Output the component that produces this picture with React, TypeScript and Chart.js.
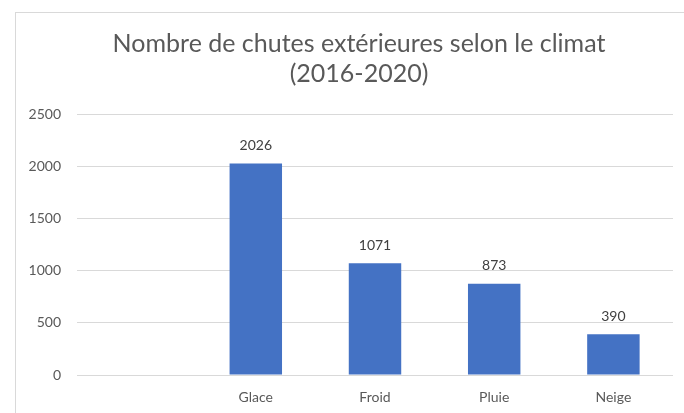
import React, { useEffect, useRef } from "react";
import { Chart, registerables } from "chart.js";

Chart.register(...registerables);

const categories = ["", "Glace", "Froid", "Pluie", "Neige"];
const values = [null, 2026, 1071, 873, 390];
const titleLines = ["Nombre de chutes extérieures selon le climat", "(2016-2020)"];
const yTicks = [0, 500, 1000, 1500, 2000, 2500];

const FONT = "Lato, 'Open Sans', sans-serif";

export default function App() {
  const ref = useRef<HTMLCanvasElement | null>(null);

  useEffect(() => {
    if (!ref.current) return;
    const borderPlugin = {
      id: "border",
      beforeDraw(chart: any) {
        const ctx = chart.ctx;
        ctx.save();
        ctx.fillStyle = "#ffffff";
        ctx.fillRect(0, 0, chart.width, chart.height);
        ctx.strokeStyle = "#d9d9d9";
        ctx.lineWidth = 1;
        ctx.strokeRect(15.5, 12.5, 900, 600);
        ctx.restore();
      },
    };
    const titlePlugin = {
      id: "customTitle",
      afterDraw(chart: any) {
        const ctx = chart.ctx;
        ctx.save();
        ctx.font = `25px ${FONT}`;
        ctx.fillStyle = "#595959";
        ctx.textAlign = "center";
        ctx.textBaseline = "middle";
        titleLines.forEach((line, i) => {
          ctx.fillText(line, 359, 44 + i * 30);
        });
        ctx.restore();
      },
    };
    const labelPlugin = {
      id: "valueLabels",
      afterDatasetsDraw(chart: any) {
        const ctx = chart.ctx;
        const meta = chart.getDatasetMeta(0);
        ctx.save();
        ctx.font = `14px ${FONT}`;
        ctx.fillStyle = "#404040";
        ctx.textAlign = "center";
        ctx.textBaseline = "middle";
        meta.data.forEach((bar: any, i: number) => {
          const v = values[i];
          if (v == null) return;
          ctx.fillText(String(v), bar.x, bar.y - 18);
        });
        ctx.restore();
      },
    };
    const chart = new Chart(ref.current, {
      type: "bar",
      data: {
        labels: categories,
        datasets: [
          {
            data: values as any,
            backgroundColor: "#4472C4",
            barPercentage: 0.44,
            categoryPercentage: 1,
          },
        ],
      },
      options: {
        animation: false,
        responsive: false,
        layout: { padding: { top: 114, right: 11, left: 0, bottom: 0 } },
        plugins: {
          legend: { display: false },
          tooltip: { enabled: false },
          title: { display: false },
        },
        scales: {
          x: {
            grid: { display: false, drawTicks: false },
            border: { display: false },
            ticks: { color: "#595959", font: { family: FONT, size: 14 }, padding: 14 },
            afterFit(scale: any) {
              scale.height = 38;
            },
          },
          y: {
            min: 0,
            max: 2500,
            afterBuildTicks(scale: any) {
              scale.ticks = yTicks.map((v) => ({ value: v }));
            },
            afterFit(scale: any) {
              scale.width = 77;
            },
            grid: { color: "#d9d9d9", drawTicks: false },
            border: { display: false },
            ticks: {
              color: "#595959",
              font: { family: FONT, size: 14 },
              padding: 16,
              callback: (v: any) => String(v),
            },
          },
        },
      },
      plugins: [borderPlugin, labelPlugin, titlePlugin],
    });
    return () => chart.destroy();
  }, []);

  return (
    <div style={{ position: "fixed", left: 0, top: 0, width: 684, height: 413, background: "#fff" }}>
      <canvas ref={ref} width={684} height={413} />
    </div>
  );
}
